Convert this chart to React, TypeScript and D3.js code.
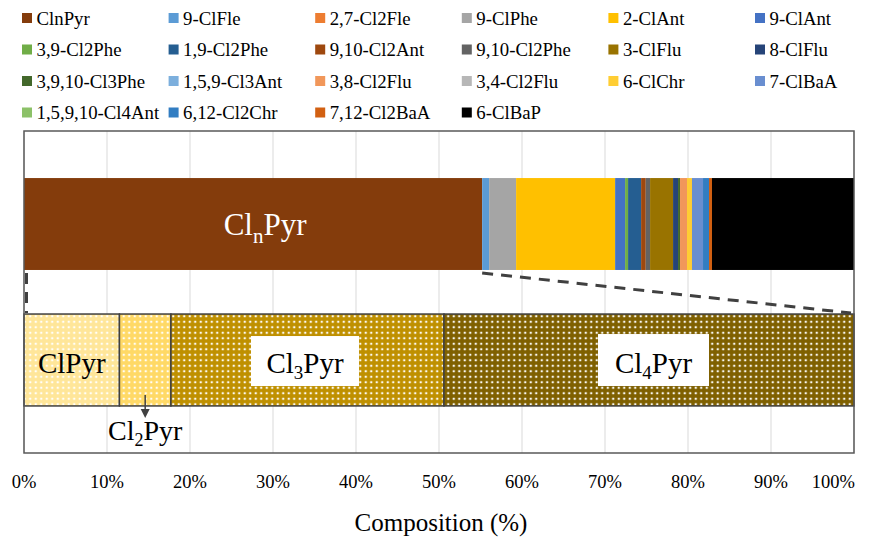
import React from "react";
import * as d3 from "d3";

const compounds = [
  "ClnPyr", "9-ClFle", "2,7-Cl2Fle", "9-ClPhe", "2-ClAnt", "9-ClAnt",
  "3,9-Cl2Phe", "1,9-Cl2Phe", "9,10-Cl2Ant", "9,10-Cl2Phe", "3-ClFlu", "8-ClFlu",
  "3,9,10-Cl3Phe", "1,5,9-Cl3Ant", "3,8-Cl2Flu", "3,4-Cl2Flu", "6-ClChr", "7-ClBaA",
  "1,5,9,10-Cl4Ant", "6,12-Cl2Chr", "7,12-Cl2BaA", "6-ClBaP",
];
const compoundValues = [
  55.2, 0.84, 0, 3.25, 11.93, 1.2,
  0.36, 1.57, 0.56, 0.52, 2.77, 0.6,
  0.24, 0, 0.84, 0, 0.6, 1.33,
  0, 0.72, 0.36, 17.11,
];
const compoundColors = [
  "#843C0C", "#5B9BD5", "#ED7D31", "#A5A5A5", "#FFC000", "#4472C4",
  "#70AD47", "#255E91", "#9E480E", "#636363", "#997300", "#264478",
  "#43682B", "#7CAFDD", "#F1975A", "#B7B7B7", "#FFCD33", "#698ED0",
  "#8CC168", "#327DC2", "#D26012", "#000000",
];

const pyrGroups = ["ClPyr", "Cl2Pyr", "Cl3Pyr", "Cl4Pyr"];
const pyrValues = [11.5, 6.2, 32.9, 49.4];
const pyrColors = ["#FFE699", "#FFD966", "#BF9000", "#7F6000"];

const barCategories = ["All", "ClnPyrDetail"];
const xTicks = [0, 10, 20, 30, 40, 50, 60, 70, 80, 90, 100];

const FONT = "Liberation Serif";

export default function App() {
  const W = 883, H = 541;
  const left = 24, right = 854, top = 131, bottom = 453;
  const x = d3.scaleLinear().domain([0, 100]).range([left, right]);
  const y = d3.scaleBand<string>().domain(barCategories).range([top, bottom]).paddingInner(0.324).paddingOuter(0.346);
  const bw = y.bandwidth();
  const yTop = y("All")!;
  const yBot = y("ClnPyrDetail")!;

  const topStack = d3.cumsum(compoundValues);
  const topSegs = compoundValues.map((v, i) => ({ name: compounds[i], x0: topStack[i] - v, x1: topStack[i], color: compoundColors[i] }));
  const botStack = d3.cumsum(pyrValues);
  const botSegs = pyrValues.map((v, i) => ({ name: pyrGroups[i], x0: botStack[i] - v, x1: botStack[i], color: pyrColors[i], i }));

  const legendCols = 6;
  const legX0 = 22, legDX = 146.6, legY0 = 13, legDY = 31.5;

  const mid = (s: { x0: number; x1: number }) => (x(s.x0) + x(s.x1)) / 2;
  const ts = { fontFamily: FONT } as React.CSSProperties;

  return (
    <svg width={W} height={H} style={{ position: "absolute", left: 0, top: 0, background: "#fff", fontFamily: FONT }}>
      <defs>
        {pyrColors.map((c, i) => (
          <pattern key={i} id={`dots${i}`} patternUnits="userSpaceOnUse" width={5.5} height={5.5}>
            <rect width={5.5} height={5.5} fill={c} />
            <circle cx={2.75} cy={2.75} r={1.25} fill="#fff" opacity={0.95} />
          </pattern>
        ))}
      </defs>
      <rect x={0} y={0} width={W} height={H} fill="#fff" />
      {/* legend */}
      {compounds.map((name, i) => {
        const col = i % legendCols;
        const row = Math.floor(i / legendCols);
        const lx = legX0 + col * legDX;
        const ly = legY0 + row * legDY;
        return (
          <g key={name}>
            <rect x={lx} y={ly} width={10} height={10} fill={compoundColors[i]} />
            <text x={lx + 14.5} y={ly + 11.5} fontSize={18.8} fill="#000" style={ts}>{name}</text>
          </g>
        );
      })}
      {/* gridlines */}
      {xTicks.map((t) => (
        <line key={t} x1={x(t)} x2={x(t)} y1={top} y2={bottom} stroke="#D9D9D9" strokeWidth={1} />
      ))}
      {/* top bar */}
      {topSegs.filter((s) => s.x1 > s.x0).map((s) => (
        <rect key={s.name} x={x(s.x0)} y={yTop} width={x(s.x1) - x(s.x0)} height={bw} fill={s.color} />
      ))}
      {/* bottom bar */}
      {botSegs.map((s) => (
        <rect key={s.name} x={x(s.x0)} y={yBot} width={x(s.x1) - x(s.x0)} height={bw} fill={`url(#dots${s.i})`} stroke="#404040" strokeWidth={1.5} />
      ))}
      {/* plot border */}
      <rect x={left} y={top} width={right - left} height={bottom - top} fill="none" stroke="#595959" strokeWidth={1.5} />
      {/* dashed connectors */}
      <line x1={x(0) + 2.5} x2={x(0) + 2.5} y1={yTop + bw + 3} y2={yBot - 1} stroke="#404040" strokeWidth={3} strokeDasharray="11,8" />
      <line x1={x(topSegs[0].x1)} y1={yTop + bw + 3} x2={x(100) - 3} y2={yBot - 1} stroke="#404040" strokeWidth={3} strokeDasharray="11,8" />
      {/* ClnPyr label */}
      <text x={mid(topSegs[0]) + 12} y={yTop + 57} fontSize={31} fill="#fff" textAnchor="middle" style={ts}>
        Cl<tspan fontSize={21} dy={8}>n</tspan><tspan dy={-8}>Pyr</tspan>
      </text>
      {/* ClPyr label */}
      <text x={mid(botSegs[0])} y={yBot + 59} fontSize={29} fill="#000" textAnchor="middle" style={ts}>ClPyr</text>
      {/* Cl3Pyr box */}
      <rect x={251} y={yBot + 22} width={108} height={50} fill="#fff" />
      <text x={305} y={yBot + 59} fontSize={29} fill="#000" textAnchor="middle" style={ts}>
        Cl<tspan fontSize={19} dy={6}>3</tspan><tspan dy={-6}>Pyr</tspan>
      </text>
      {/* Cl4Pyr box */}
      <rect x={598} y={yBot + 20} width={111} height={52} fill="#fff" />
      <text x={653.5} y={yBot + 59} fontSize={29} fill="#000" textAnchor="middle" style={ts}>
        Cl<tspan fontSize={19} dy={6}>4</tspan><tspan dy={-6}>Pyr</tspan>
      </text>
      {/* Cl2Pyr arrow + label */}
      <line x1={mid(botSegs[1])} x2={mid(botSegs[1])} y1={yBot + bw - 11} y2={yBot + bw + 4} stroke="#404040" strokeWidth={1.5} />
      <path d={`M${mid(botSegs[1]) - 4.5},${yBot + bw + 3} L${mid(botSegs[1]) + 4.5},${yBot + bw + 3} L${mid(botSegs[1])},${yBot + bw + 12} Z`} fill="#404040" />
      <text x={mid(botSegs[1])} y={yBot + bw + 34} fontSize={28} fill="#000" textAnchor="middle" style={ts}>
        Cl<tspan fontSize={18} dy={6}>2</tspan><tspan dy={-6}>Pyr</tspan>
      </text>
      {/* x tick labels */}
      {xTicks.map((t) => (
        <text key={t} x={t === 100 ? x(t) + 1 : x(t)} y={488} fontSize={18.5} textAnchor={t === 100 ? "end" : "middle"} fill="#000" style={ts}>{`${t}%`}</text>
      ))}
      <text x={441} y={531} fontSize={25} textAnchor="middle" fill="#000" style={ts}>Composition (%)</text>
    </svg>
  );
}
